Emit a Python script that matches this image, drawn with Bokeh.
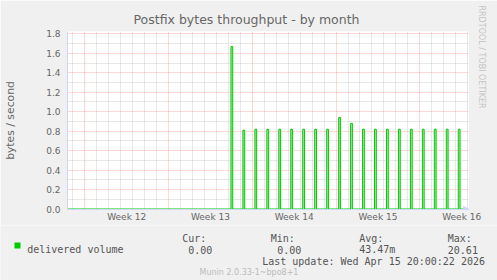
import math
from bokeh.plotting import figure
from bokeh.layouts import column
from bokeh.models import (FixedTicker, Title, Arrow, NormalHead, Range1d)
from bokeh.core.properties import value
from bokeh.embed import file_html
from bokeh.resources import INLINE

# ---------------- data ----------------
# x in days since Monday 2026-03-16 00:00 (start of week 12)
x_start, x_end = -1.446, 32.07
week_starts = [0, 7, 14, 21, 28]
week_mids = [3.5, 10.5, 17.5, 24.5, 31.5]
week_labels = ["Week 12", "Week 13", "Week 14", "Week 15", "Week 16"]
day_ticks = [-1, 1, 2, 3, 4, 5, 6, 8, 9, 10, 11, 12, 13, 15, 16, 17, 18, 19, 20,
             22, 23, 24, 25, 26, 27, 29, 30, 31, 32]
y_major = [0.0, 0.2, 0.4, 0.6, 0.8, 1.0, 1.2, 1.4, 1.6, 1.8]
y_minor = [0.1, 0.3, 0.5, 0.7, 0.9, 1.1, 1.3, 1.5, 1.7]

spike_days = [12.29, 13.29, 14.29, 15.29, 16.29, 17.29, 18.29, 19.29, 20.29, 21.29,
              22.29, 23.29, 24.29, 25.29, 26.29, 27.29, 28.29, 29.29, 30.29, 31.29]
spike_values = [1.67, 0.81, 0.82, 0.82, 0.82, 0.82, 0.82, 0.82, 0.82, 0.94,
                0.88, 0.82, 0.82, 0.82, 0.82, 0.82, 0.82, 0.82, 0.82, 0.82]

title_text = "Postfix bytes throughput - by month"
y_label = "bytes / second"
series_name = "delivered volume"
stat_heads = ["Cur:", "Min:", "Avg:", "Max:"]
stat_values = ["0.00", "0.00", "43.47m", "20.61"]
last_update = "Last update: Wed Apr 15 20:00:22 2026"
version_text = "Munin 2.0.33-1~bpo8+1"
watermark = "RRDTOOL / TOBI OETIKER"

# ---------------- styling ----------------
W = 497
H_MAIN, H_LEG = 225, 55
FL, FR, FT, FB = 67, 468, 31, 209   # frame edges in canvas pixels
GREEN = "#00cc00"
FONT_C = "#666666"
MONO_C = "#555555"
AXIS_C = "#cfd6f8"
BACK = "#f0f0f0"
spike_w = 0.15

p = figure(width=W, height=H_MAIN, output_backend="svg", toolbar_location=None,
           title=None,
           x_range=Range1d(x_start, x_end), y_range=Range1d(-0.005, 1.824),
           min_border_left=FL, min_border_right=W - FR,
           min_border_top=FT, min_border_bottom=H_MAIN - FB)
p.frame_align = False
p.background_fill_color = "#ffffff"
p.border_fill_color = BACK
p.outline_line_color = None

# title above, watermark on the right
p.add_layout(Title(text=title_text, align="left", offset=133 - FL, standoff=9,
                   text_font="DejaVu Sans", text_font_size="12.5px",
                   text_font_style="normal", text_color=FONT_C), "above")
p.add_layout(Title(text=watermark, align="left", offset=-26, standoff=16,
                   text_font="DejaVu Sans", text_font_size="8px",
                   text_font_style="normal", text_color="#c4c4c4"), "right")

# grids
p.ygrid.ticker = FixedTicker(ticks=y_major, minor_ticks=y_minor)
p.xgrid.ticker = FixedTicker(ticks=week_starts, minor_ticks=day_ticks)
for g in (p.xgrid[0], p.ygrid[0]):
    g.grid_line_color = "#ff7a7a"
    g.grid_line_alpha = 0.6
    g.grid_line_dash = "1 1"
    g.grid_line_width = 1
    g.minor_grid_line_color = "#b0b0b0"
    g.minor_grid_line_alpha = 0.6
    g.minor_grid_line_dash = "1 1"
    g.minor_grid_line_width = 1
    g.level = "underlay"

# axes
xa = p.xaxis[0]
xa.ticker = FixedTicker(ticks=week_mids)
xa.major_label_overrides = {m: lab for m, lab in zip(week_mids, week_labels)}
ya = p.yaxis[0]
ya.ticker = FixedTicker(ticks=y_major)
ya.major_label_overrides = {v: f"{v:.1f}" for v in y_major}
ya.axis_label = y_label
for a in (xa, ya):
    a.axis_line_color = AXIS_C
    a.major_tick_line_color = None
    a.minor_tick_line_color = None
    a.major_tick_out = 0
    a.major_tick_in = 0
    a.minor_tick_out = 0
    a.minor_tick_in = 0
    a.major_label_text_color = FONT_C
    a.major_label_text_font = "DejaVu Sans"
    a.major_label_text_font_size = "9px"
xa.major_label_standoff = 2
ya.major_label_standoff = 7
ya.axis_label_text_font = "DejaVu Sans"
ya.axis_label_text_font_size = "10.8px"
ya.axis_label_text_font_style = "normal"
ya.axis_label_text_color = FONT_C
ya.axis_label_standoff = 26

# series: zero line with one-sample spikes
xs, ys = [x_start], [0.0]
for t, v in zip(spike_days, spike_values):
    xs += [t - spike_w / 2, t - spike_w / 2, t + spike_w / 2, t + spike_w / 2]
    ys += [0.0, v, v, 0.0]
xs.append(x_end)
ys.append(0.0)
p.quad(left=[t - spike_w / 2 for t in spike_days],
       right=[t + spike_w / 2 for t in spike_days],
       bottom=0, top=spike_values, fill_color="#a6eaa6", line_color=None)
p.line(xs, ys, line_color=GREEN, line_width=1)

# arrow on the x axis end
p.add_layout(Arrow(end=NormalHead(size=5, fill_color=AXIS_C, line_color=AXIS_C),
                   x_start=x_end - 0.3, y_start=0, x_end=x_end, y_end=0,
                   line_color=AXIS_C))

# ---------------- legend strip (pixel coordinates of the strip) ----------------
L0 = H_MAIN
q = figure(width=W, height=H_LEG, output_backend="svg", toolbar_location=None,
           title=None, x_range=Range1d(0, W), y_range=Range1d(L0 + H_LEG, L0),
           x_axis_location=None, y_axis_location=None,
           min_border=0, min_border_left=0, min_border_right=0,
           min_border_top=0, min_border_bottom=0)
q.frame_align = False
q.grid.visible = False
q.outline_line_color = None
q.background_fill_color = BACK
q.border_fill_color = BACK

MONO = value("DejaVu Sans Mono")
q.quad(left=[14], right=[20], top=[242], bottom=[248], fill_color=GREEN,
       line_color=None)
q.text(x=[26.7], y=[249], text=[series_name], text_font=MONO,
       text_font_size="10px", text_color=MONO_C, text_baseline="alphabetic")
q.text(x=[181.7, 270.3, 358.7, 447.3], y=[237.5] * 4, text=stat_heads,
       text_font=MONO, text_font_size="10px", text_color=MONO_C,
       text_baseline="alphabetic")
q.text(x=[187.7, 276.7, 358.7, 447.3], y=[249] * 4, text=stat_values,
       text_font=MONO, text_font_size="10px", text_color=MONO_C,
       text_baseline="alphabetic")
q.text(x=[261.7], y=[260.5], text=[last_update], text_font=MONO,
       text_font_size="10px", text_color=MONO_C, text_baseline="alphabetic")
q.text(x=[199], y=[272], text=[version_text], text_font=value("DejaVu Sans"),
       text_font_size="8px", text_color="#bbbbbb", text_baseline="alphabetic")

layout = column(p, q, spacing=0)
open("out.html", "w").write(file_html(layout, INLINE))
